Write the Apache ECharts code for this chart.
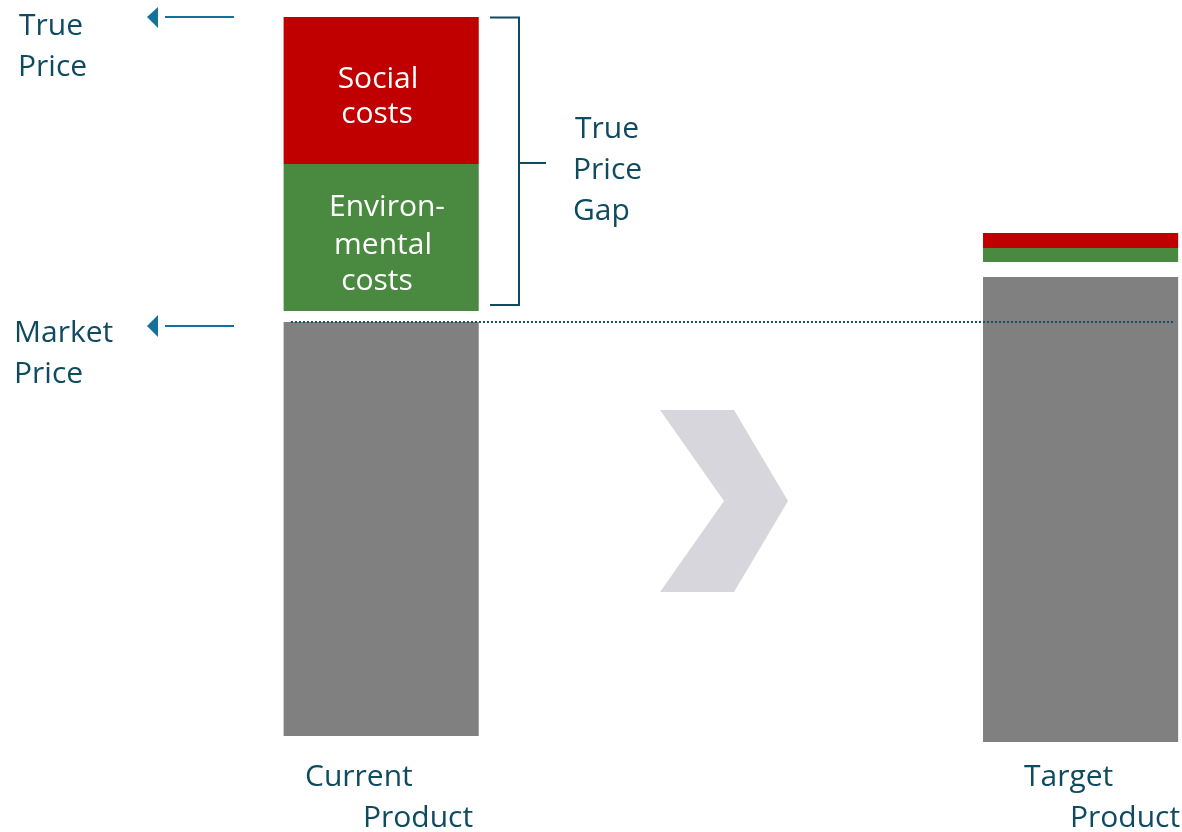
<!DOCTYPE html>
<html>
<head>
<meta charset="utf-8">
<script src="https://cdn.jsdelivr.net/npm/echarts@6/dist/echarts.min.js"></script>
<style>
  html, body { margin: 0; padding: 0; background: #ffffff; }
  #chart { width: 1182px; height: 832px; }
</style>
</head>
<body>
<div id="chart"></div>
<script>
// ---- data (arbitrary price units) ----
const categories = ['Current Product', 'Target Product'];
const marketPrice = [[6, 420], [0, 465]];          // grey segment [low, high]
const environmentalCosts = [[431, 578], [480, 494]]; // green segment [low, high]
const socialCosts = [[578, 725], [494, 509]];        // red segment [low, high]
const marketPriceLevel = 420;                        // dotted reference line
const segmentLabels = { social: ['Social', 'costs'], env: ['Environ-', 'mental', 'costs'] };

const FONT = '"Open Sans", "Noto Sans", sans-serif';
const TEXT = '#0F4B60';
const ARROW = '#15709A';
const HALF = 0.1395;

function rectItem(color) {
  return function (params, api) {
    const x = api.value(0), lo = api.value(1), hi = api.value(2);
    const p0 = api.coord([x - HALF, hi]);
    const p1 = api.coord([x + HALF, lo]);
    return {
      type: 'rect',
      shape: { x: p0[0], y: p0[1], width: p1[0] - p0[0], height: p1[1] - p0[1] },
      style: { fill: color }
    };
  };
}
function toData(arr) { return arr.map((v, i) => [i, v[0], v[1]]); }

function txt(str, x, y, opts) {
  return {
    type: 'text', x: x, y: y + 2, silent: true, z: 100,
    style: Object.assign({ text: str, font: '30px ' + FONT, fill: TEXT,
      align: 'left', verticalAlign: 'middle' }, opts || {})
  };
}

const cur = categories[0].split(' ');
const tgt = categories[1].split(' ');

const chart = echarts.init(document.getElementById('chart'), null, { renderer: 'canvas' });
chart.setOption({
  animation: false,
  backgroundColor: '#ffffff',
  grid: { left: 0, right: 0, top: 17, bottom: 90 },
  xAxis: { type: 'value', min: -0.545, max: 1.145, show: false },
  yAxis: { type: 'value', min: 0, max: 725, show: false },
  series: [
    {
      type: 'custom', name: 'Market price', renderItem: rectItem('#808080'),
      encode: { x: 0, y: [1, 2] }, data: toData(marketPrice), z: 2
    },
    {
      type: 'custom', name: 'Environmental costs', renderItem: rectItem('#4A8940'),
      encode: { x: 0, y: [1, 2] }, data: toData(environmentalCosts), z: 2
    },
    {
      type: 'custom', name: 'Social costs', renderItem: rectItem('#C00000'),
      encode: { x: 0, y: [1, 2] }, data: toData(socialCosts), z: 2,
      markLine: {
        silent: true, symbol: 'none', z: 5,
        label: { show: false },
        lineStyle: { color: '#164E63', width: 2, type: [2, 2], opacity: 1 },
        data: [[{ coord: [-0.129, marketPriceLevel] }, { coord: [1.135, marketPriceLevel] }]]
      }
    }
  ],
  graphic: [
    // chevron
    { type: 'polygon', silent: true, z: 1,
      shape: { points: [[660, 410], [734, 410], [788, 501], [734, 592], [660, 592], [724, 501]] },
      style: { fill: '#D7D6DC' } },
    // arrows
    { type: 'polygon', silent: true, z: 100, shape: { points: [[147, 17], [158, 7], [158, 28]] }, style: { fill: ARROW } },
    { type: 'line', silent: true, z: 100, shape: { x1: 165, y1: 17, x2: 234, y2: 17 }, style: { stroke: ARROW, lineWidth: 2 } },
    { type: 'polygon', silent: true, z: 100, shape: { points: [[147, 326], [158, 315], [158, 337]] }, style: { fill: ARROW } },
    { type: 'line', silent: true, z: 100, shape: { x1: 165, y1: 326, x2: 234, y2: 326 }, style: { stroke: ARROW, lineWidth: 2 } },
    // bracket
    { type: 'polyline', silent: true, z: 100,
      shape: { points: [[490, 17.5], [519, 17.5], [519, 305], [490, 305]] },
      style: { stroke: '#0F4B60', lineWidth: 2, fill: null } },
    { type: 'line', silent: true, z: 100, shape: { x1: 519, y1: 163, x2: 546, y2: 163 }, style: { stroke: '#0F4B60', lineWidth: 2 } },
    // left labels
    txt('True', 19, 24.5), txt('Price', 18, 65.5),
    txt('Market', 14, 331.5), txt('Price', 14, 372.5),
    // gap label
    txt('True', 575, 127), txt('Price', 573, 168), txt('Gap', 573, 209),
    // segment labels
    txt(segmentLabels.social[0], 378, 77.5, { fill: '#ffffff', align: 'center' }),
    txt(segmentLabels.social[1], 377, 112.5, { fill: '#ffffff', align: 'center' }),
    txt(segmentLabels.env[0], 387, 205.5, { fill: '#ffffff', align: 'center' }),
    txt(segmentLabels.env[1], 383, 243.5, { fill: '#ffffff', align: 'center' }),
    txt(segmentLabels.env[2], 377, 279, { fill: '#ffffff', align: 'center' }),
    // category labels
    txt(cur[0], 305, 775.5), txt(cur[1], 363, 816.5),
    txt(tgt[0], 1024, 775.5), txt(tgt[1], 1070, 816.5)
  ]
});
</script>
</body>
</html>
